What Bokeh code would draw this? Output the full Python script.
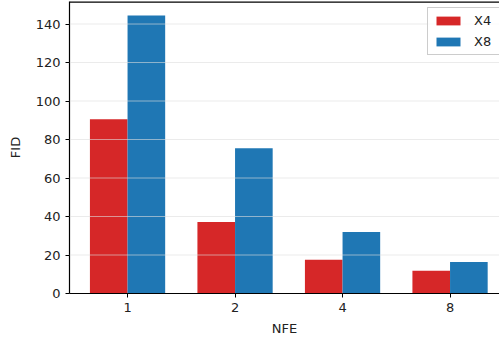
from bokeh.plotting import figure
from bokeh.models import Range1d, FixedTicker, Legend, LegendItem, ColumnDataSource, Span
from bokeh.embed import file_html
from bokeh.resources import INLINE

# FID by number of function evaluations, two upscaling factors
nfe_labels = ["1", "2", "4", "8"]
fid_x4 = [90.5, 37.1, 17.5, 11.8]
fid_x8 = [144.4, 75.5, 32.0, 16.4]
y_ticks = [0, 20, 40, 60, 80, 100, 120, 140]

FONT = "DejaVu Sans"
RED = "#d62728"
BLUE = "#1f77b4"
bar_w = 0.35

pos = list(range(len(nfe_labels)))
src = ColumnDataSource(dict(
    x4_pos=[i - bar_w / 2 for i in pos],
    x8_pos=[i + bar_w / 2 for i in pos],
    x4=fid_x4,
    x8=fid_x8,
))

p = figure(width=499, height=338, output_backend="svg", toolbar_location=None,
           x_range=Range1d(-0.54, 3.46), y_range=Range1d(0, 151.7),
           min_border_left=69, min_border_right=0, min_border_bottom=45, min_border_top=1)
p.outline_line_color = None
p.background_fill_color = "white"
p.border_fill_color = "white"

r4 = p.vbar(x="x4_pos", top="x4", width=bar_w, source=src, fill_color=RED, line_color=None)
r8 = p.vbar(x="x8_pos", top="x8", width=bar_w, source=src, fill_color=BLUE, line_color=None)

# horizontal guide lines drawn across the bars
p.xgrid.visible = False
p.ygrid.visible = False
for t in y_ticks[1:]:
    p.add_layout(Span(location=t, dimension="width", line_color="#dddddd",
                      line_alpha=0.6, line_width=1))

for ax in (p.xaxis[0], p.yaxis[0]):
    ax.axis_line_color = "black"
    ax.axis_line_width = 1.2
    ax.major_tick_line_color = "black"
    ax.major_tick_out = 4
    ax.major_tick_in = 0
    ax.minor_tick_line_color = None
    ax.major_label_text_font = FONT
    ax.major_label_text_font_size = "13px"
    ax.major_label_text_color = "#222222"
    ax.axis_label_text_font = FONT
    ax.axis_label_text_font_size = "13px"
    ax.axis_label_text_font_style = "normal"
    ax.axis_label_text_color = "#222222"

p.xaxis.ticker = FixedTicker(ticks=pos)
p.xaxis.major_label_overrides = {i: s for i, s in enumerate(nfe_labels)}
p.xaxis.axis_label = "NFE"
p.xaxis.axis_label_standoff = 6
p.yaxis.ticker = FixedTicker(ticks=y_ticks)
p.yaxis.axis_label = "FID"
p.yaxis.axis_label_standoff = 10

# top frame line
p.add_layout(Span(location=151.7, dimension="width", line_color="black", line_width=2.4))

legend = Legend(items=[LegendItem(label="X4", renderers=[r4]),
                       LegendItem(label="X8", renderers=[r8])],
                location=(358, 238))
legend.label_text_font = FONT
legend.label_text_font_size = "13px"
legend.label_text_color = "#222222"
legend.glyph_width = 30
legend.glyph_height = 11
legend.border_line_color = "#cccccc"
legend.border_line_alpha = 1
legend.background_fill_alpha = 0.8
legend.margin = 0
legend.padding = 5
legend.spacing = 6
legend.label_standoff = 11
p.add_layout(legend)

page_css = ("<style>html, body { margin: 0; overflow: hidden; scrollbar-width: none; }"
            " ::-webkit-scrollbar { display: none; width: 0; height: 0; }</style>")
html = file_html(p, INLINE)
html = html.replace("<head>", "<head>" + page_css, 1)
open("out.html", "w").write(html)
